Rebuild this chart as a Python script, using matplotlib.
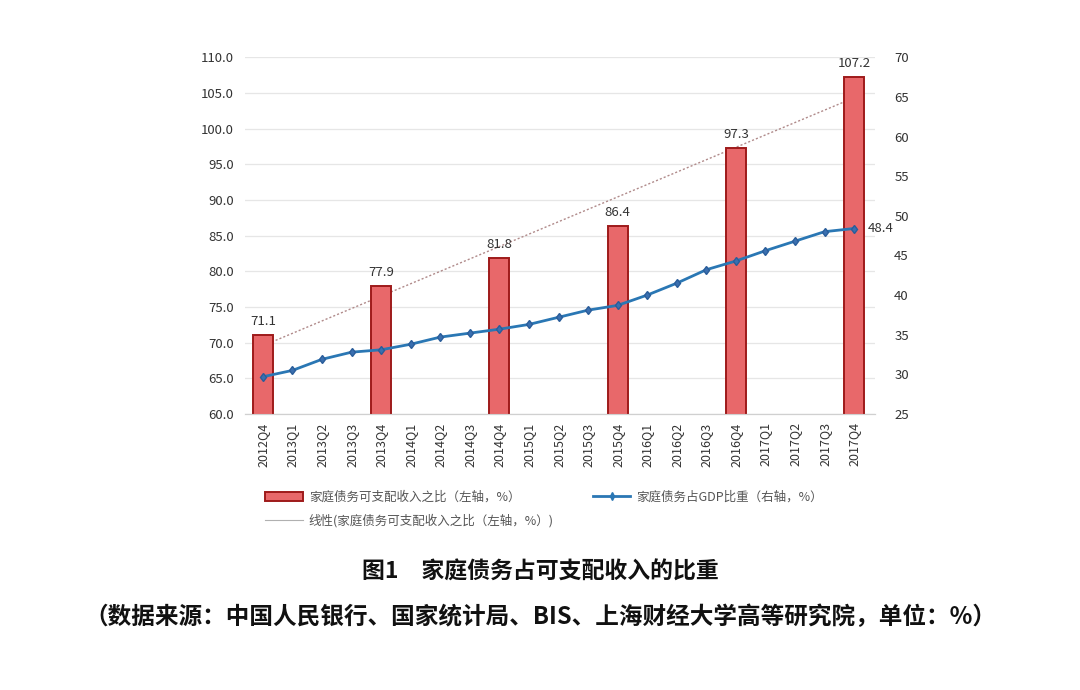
import matplotlib
matplotlib.use("Agg")
import matplotlib.pyplot as plt
from matplotlib.lines import Line2D
from matplotlib.patches import Patch
import numpy as np

plt.rcParams['font.family'] = ['Noto Sans CJK SC', 'DejaVu Sans']

quarters = ["2012Q4",
            "2013Q1", "2013Q2", "2013Q3", "2013Q4",
            "2014Q1", "2014Q2", "2014Q3", "2014Q4",
            "2015Q1", "2015Q2", "2015Q3", "2015Q4",
            "2016Q1", "2016Q2", "2016Q3", "2016Q4",
            "2017Q1", "2017Q2", "2017Q3", "2017Q4"]
# household debt / disposable income, only Q4 values reported (left axis)
bar_quarters = ["2012Q4", "2013Q4", "2014Q4", "2015Q4", "2016Q4", "2017Q4"]
debt_income = [71.1, 77.9, 81.8, 86.4, 97.3, 107.2]
# household debt / GDP (right axis)
debt_gdp = [29.7, 30.5, 31.9, 32.8, 33.1, 33.8, 34.7, 35.2, 35.7, 36.3, 37.2,
            38.1, 38.7, 40.0, 41.5, 43.2, 44.3, 45.6, 46.8, 48.0, 48.4]

x = np.arange(len(quarters))
bx = np.array([quarters.index(q) for q in bar_quarters])

fig = plt.figure(figsize=(10.8, 6.9), dpi=100)
ax = fig.add_axes([0.227, 0.40, 0.583, 0.517])
ax2 = ax.twinx()

# linear trend of the bar series
k, b = np.polyfit(bx, debt_income, 1)
ax.plot([bx[0] + 0.3, bx[-1] - 0.3], [k * (bx[0] + 0.3) + b, k * (bx[-1] - 0.3) + b],
        color="#b08a8a", linestyle=(0, (1.5, 1.5)), linewidth=1.0, zorder=2)

ax.bar(bx, debt_income, width=0.68, color="#e8686a", edgecolor="#9e1a1a",
       linewidth=1.4, zorder=3)
for xi, v in zip(bx, debt_income):
    ax.text(xi, v + 1.0, f"{v:.1f}", ha="center", va="bottom", fontsize=9.5, color="#333333")

ax.set_ylim(60, 110)
ax.set_yticks(np.arange(60, 110.1, 5))
ax.set_yticklabels([f"{t:.1f}" for t in np.arange(60, 110.1, 5)])
ax.set_xlim(-0.6, 20.7)
ax.set_xticks(x)
ax.set_xticklabels(quarters, rotation=90, color="#333333")
ax.grid(axis="y", color="#e6e6e6", linewidth=0.9)
ax.set_axisbelow(True)

ax2.plot(x, debt_gdp, color="#2a77b4", linewidth=2.0, marker="d", markersize=4.5,
         markerfacecolor="#3a6fb0", markeredgecolor="#2a5d9a", zorder=5)
ax2.text(x[-1] + 0.45, debt_gdp[-1], f"{debt_gdp[-1]:.1f}", ha="left", va="center",
         fontsize=9.5, color="#333333")
ax2.set_ylim(25, 70)
ax2.set_yticks(np.arange(25, 71, 5))

for a in (ax, ax2):
    for s in ("top", "left", "right"):
        a.spines[s].set_visible(False)
    a.spines["bottom"].set_color("#d0d0d0")
    a.tick_params(length=0, labelsize=9.5, colors="#333333")
ax.tick_params(axis="x", labelsize=9, pad=6)
ax.tick_params(axis="y", pad=8)
ax2.tick_params(axis="y", pad=14)
ax.set_zorder(ax2.get_zorder() - 1)
ax.patch.set_visible(True)
ax2.patch.set_visible(False)

handles = [Patch(facecolor="#e8686a", edgecolor="#9e1a1a", linewidth=1.4),
           Line2D([], [], color="#2a77b4", linewidth=2, marker="d", markersize=4),
           Line2D([], [], color="#b0b0b0", linewidth=0.8)]
labels = ["家庭债务可支配收入之比（左轴，%）",
          "家庭债务占GDP比重（右轴，%）",
          "线性(家庭债务可支配收入之比（左轴，%）)"]
fig.legend(handles[:2], labels[:2], loc="upper left", bbox_to_anchor=(0.235, 0.305),
           ncol=2, frameon=False, fontsize=9, columnspacing=5.8, handlelength=3,
           handletextpad=0.5, labelcolor="#555555")
fig.legend(handles[2:], labels[2:], loc="upper left", bbox_to_anchor=(0.235, 0.272),
           frameon=False, fontsize=9, handlelength=3, handletextpad=0.5,
           labelcolor="#555555")

fig.text(0.5, 0.171, "图1　家庭债务占可支配收入的比重", ha="center", va="center",
         fontsize=16.5, fontweight="bold", color="#111111")
fig.text(0.5, 0.106, "（数据来源：中国人民银行、国家统计局、BIS、上海财经大学高等研究院，单位：%）",
         ha="center", va="center", fontsize=17, fontweight="bold", color="#111111")

fig.savefig("out.png", dpi=100)
